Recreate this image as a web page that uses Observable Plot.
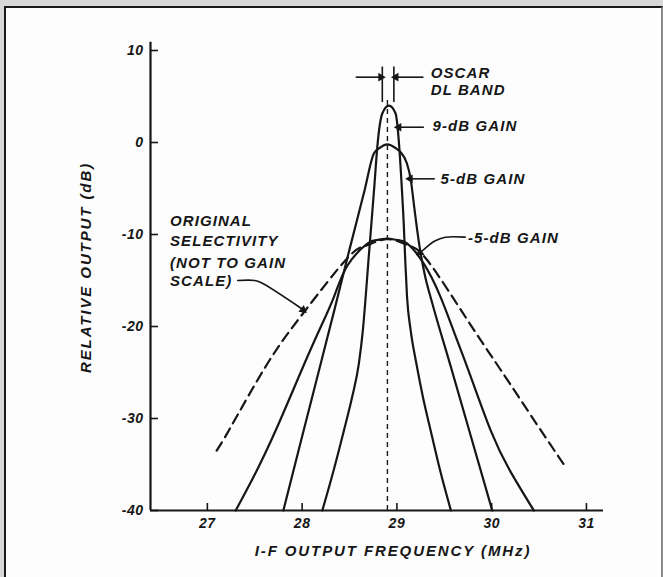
<!DOCTYPE html>
<html>
<head>
<meta charset="utf-8">
<script src="https://cdn.jsdelivr.net/npm/d3@7"></script>
<script src="https://cdn.jsdelivr.net/npm/@observablehq/plot@0.6"></script>
<style>
  html, body { margin: 0; padding: 0; }
  body { width: 663px; height: 577px; background: #d8d8d8; position: relative; overflow: hidden; }
  #frame { position: absolute; left: 4px; top: 6px; width: 655px; height: 600px; background: #fdfdfd;
           border: 2px solid #1a1a1a; border-right: 2px solid #8a8a8a; }
  #chart { position: absolute; left: 0; top: 0; }
</style>
</head>
<body>
<div id="frame"></div>
<div id="chart"></div>
<script>
// ---- Tick labels ----
const xTicks = [27, 28, 29, 30, 31];
const yTicks = [10, 0, -10, -20, -30, -40];
const xExtent = [26.4, 31.18];
const yExtent = [-40, 10];
const yAxisTop = 10.9;
const xTitle = "I-F OUTPUT FREQUENCY (MHz)";
const yTitle = "RELATIVE OUTPUT (dB)";

// ---- Curves (frequency in MHz, relative output in dB) ----
const gain9Freq = [28.213, 28.332, 28.441, 28.527, 28.599, 28.641, 28.670, 28.700, 28.731, 28.763, 28.793, 28.846, 28.916,
                   28.986, 29.025, 29.050, 29.072, 29.088, 29.107, 29.145, 29.205, 29.275, 29.356, 29.455, 29.570];
const gain9Db   = [-40, -35.65, -31.3, -27.7, -24.0, -20.4, -16.85, -12.8, -8.8, -4.6, -0.5, 3.15, 4.0,
                   3.15, -0.5, -4.6, -8.8, -12.8, -16.8, -20.4, -24.0, -27.7, -31.3, -35.6, -40];

const gain5Freq = [27.802, 27.989, 28.177, 28.338, 28.498, 28.659, 28.757, 28.823, 28.899,
                   28.986, 29.039, 29.103, 29.145, 29.181, 29.215, 29.245, 29.297, 29.366, 29.564, 29.763, 30.006];
const gain5Db   = [-40, -32.4, -24.8, -18.3, -11.7, -5.2, -1.2, -0.55, -0.2,
                   -0.6, -1.05, -2.2, -3.95, -6.85, -9.6, -11.7, -14.5, -17.2, -24.2, -31.3, -40];

const gainM5Freq = [27.299, 27.519, 27.738, 27.984, 28.172, 28.335, 28.477, 28.688, 28.793, 28.899,
                    29.004, 29.110, 29.285, 29.461, 29.610, 29.756, 29.989, 30.200, 30.445];
const gainM5Db   = [-40, -35.7, -30.9, -25.0, -20.6, -16.8, -13.4, -11.0, -10.6, -10.45,
                    -10.6, -11.0, -13.2, -16.8, -20.8, -24.8, -31.3, -35.8, -40];

const origFreq = [27.098, 27.246, 27.633, 28.019, 28.475, 28.680, 28.899, 29.110, 29.321, 29.741, 30.094, 30.481, 30.762];
const origDb   = [-33.5, -30.95, -24.05, -18.45, -12.6, -11.2, -10.5, -11.15, -12.8, -19.25, -24.7, -30.7, -35.0];

// ---- Annotations ----
const centerFreq = 28.90;
const centerTop = 4.8;
const bandEdges = [28.846, 28.968];
const bandBottom = 4.35;
const bandTop = 8.2;

const annotText = ["OSCAR", "DL BAND", "9-dB GAIN", "5-dB GAIN", "-5-dB GAIN",
                   "ORIGINAL", "SELECTIVITY", "(NOT TO GAIN", "SCALE)"];
const annotFreq = [29.357, 29.357, 29.375, 29.46, 29.75, 26.605, 26.605, 26.605, 26.605];
const annotDb   = [7.55, 5.65, 1.74, -3.97, -10.38, -8.59, -10.76, -13.10, -15.11];

// straight arrows: start x1 to tip x2 at level y
const arrowX1 = [28.565, 29.28, 29.285, 29.40];
const arrowX2 = [28.83, 28.99, 29.02, 29.14];
const arrowY  = [7.1, 7.1, 1.66, -3.95];
const arrowRot = [90, 270, 270, 270];

// curved leaders
const leaderM5Freq = [29.72, 29.51, 29.40, 29.26];
const leaderM5Db   = [-10.29, -10.29, -10.7, -11.85];
const leaderOrigFreq = [27.32, 27.50, 27.57, 28.00];
const leaderOrigDb   = [-15.0, -15.0, -15.25, -18.1];
const leaderTipFreq = [29.245, 28.01];
const leaderTipDb   = [-11.97, -18.2];
const leaderTipRot  = [237, 129];

// ---- Build tables ----
const toRows = (fs, ds) => fs.map((f, i) => ({f, db: ds[i]}));
const gain9 = toRows(gain9Freq, gain9Db);
const gain5 = toRows(gain5Freq, gain5Db);
const gainM5 = toRows(gainM5Freq, gainM5Db);
const orig = toRows(origFreq, origDb);
const annots = annotText.map((t, i) => ({t, f: annotFreq[i], db: annotDb[i]}));
const arrows = arrowX1.map((x1, i) => ({x1, x2: arrowX2[i], y: arrowY[i], rot: arrowRot[i]}));
const leaderM5 = toRows(leaderM5Freq, leaderM5Db);
const leaderOrig = toRows(leaderOrigFreq, leaderOrigDb);
const tips = leaderTipFreq.map((f, i) => ({f, db: leaderTipDb[i], rot: leaderTipRot[i]}))
  .concat(arrows.map(a => ({f: a.x2, db: a.y, rot: a.rot})));

const ink = "#161616";
const fmt = d => (d < 0 ? "-" + Math.abs(d) : String(d));
const curveOpts = {x: "f", y: "db", curve: "monotone-x", stroke: ink, strokeWidth: 2.2};

const chart = Plot.plot({
  width: 663,
  height: 577,
  marginLeft: 150,
  marginRight: 60,
  marginTop: 50,
  marginBottom: 67,
  x: {domain: xExtent},
  y: {domain: yExtent},
  style: {
    fontFamily: "'Liberation Sans', Arial, sans-serif",
    fontStyle: "italic",
    fontWeight: "bold",
    fontSize: "14px",
    color: ink,
    background: "transparent",
    overflow: "visible"
  },
  marks: [
    // axes lines
    Plot.ruleX([xExtent[0]], {y1: yExtent[0], y2: yAxisTop, stroke: ink, strokeWidth: 2.2}),
    Plot.ruleY([yExtent[0]], {x1: xExtent[0], x2: xExtent[1], stroke: ink, strokeWidth: 2.2}),
    // inward ticks
    Plot.ruleX(xTicks, {y1: yExtent[0], y2: yExtent[0], insetTop: -7, stroke: ink, strokeWidth: 1.6}),
    Plot.ruleY(yTicks, {x1: xExtent[0], x2: xExtent[0], insetRight: -8, stroke: ink, strokeWidth: 1.6}),
    Plot.axisX(xTicks, {tickSize: 0, tickPadding: 8, tickFormat: fmt, fontSize: 14, label: null}),
    Plot.axisY(yTicks, {tickSize: 0, tickPadding: 7, tickFormat: fmt, fontSize: 14, label: null}),
    // axis titles
    Plot.text([yTitle], {frameAnchor: "left", textAnchor: "middle", lineAnchor: "middle",
      dx: -64, dy: -13, rotate: -90, fontSize: 15, fill: ink}),
    Plot.text([xTitle], {frameAnchor: "bottom", textAnchor: "middle", lineAnchor: "middle",
      dx: 16, dy: 41, fontSize: 15, fill: ink}),
    // center dashed line
    Plot.ruleX([centerFreq], {y1: yExtent[0], y2: centerTop, stroke: ink, strokeWidth: 1.4, strokeDasharray: "5,4"}),
    // curves
    Plot.line(orig, {...curveOpts, curve: "natural", strokeDasharray: "10,6"}),
    Plot.line(gainM5, {...curveOpts, curve: "natural"}),
    Plot.line(gain5, curveOpts),
    Plot.line(gain9, curveOpts),
    // band markers
    Plot.ruleX(bandEdges, {y1: bandBottom, y2: bandTop, stroke: ink, strokeWidth: 1.6}),
    // arrows
    Plot.link(arrows, {x1: "x1", x2: "x2", y1: "y", y2: "y", stroke: ink, strokeWidth: 1.6}),
    Plot.line(leaderM5, {x: "f", y: "db", curve: "catmull-rom", stroke: ink, strokeWidth: 1.6}),
    Plot.line(leaderOrig, {x: "f", y: "db", curve: "catmull-rom", stroke: ink, strokeWidth: 1.6}),
    Plot.dot(tips, {x: "f", y: "db", rotate: "rot", symbol: "triangle", r: 3.2, fill: ink, stroke: null}),
    // labels
    Plot.text(annots, {x: "f", y: "db", text: "t", textAnchor: "start", lineAnchor: "middle",
      fontSize: 15, fill: ink})
  ]
});

// letter spacing like the hand lettering
const titleSet = new Set([xTitle, yTitle]);
const annotSet = new Set(annotText);
d3.select(chart).selectAll("text").each(function () {
  const t = this.textContent;
  const ls = titleSet.has(t) ? 1.9 : annotSet.has(t) ? 1.1 : 0.5;
  this.setAttribute("letter-spacing", ls);
});
document.getElementById("chart").appendChild(chart);
</script>
</body>
</html>
